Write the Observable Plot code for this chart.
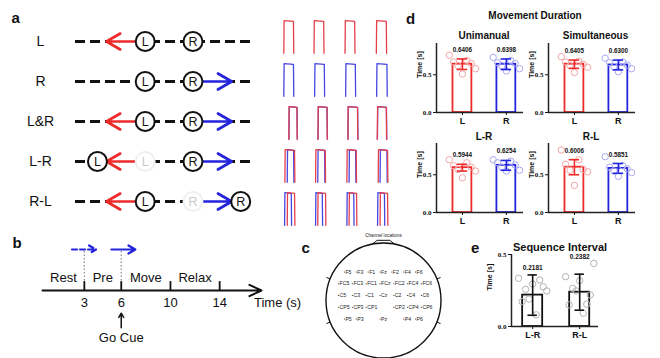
<!DOCTYPE html>
<html><head><meta charset="utf-8">
<script src="https://cdn.jsdelivr.net/npm/d3@7"></script>
<script src="https://cdn.jsdelivr.net/npm/@observablehq/plot@0.6"></script>
<style>
body{margin:0;background:#fff;}
#fig{position:relative;width:660px;height:358px;overflow:hidden;background:#fff;font-family:"Liberation Sans",Arial,sans-serif;color:#111;}
</style></head><body><div id="fig"></div>
<script>
// ---------- data ----------
const taskRows = ["L", "R", "L&R", "L-R", "R-L"];
// slots along a row: 0 outer-left, 1 left-hand home, 2 right-hand home, 3 outer-right
const handCircles = [
  {row: "L", hand: "L", slot: 1}, {row: "L", hand: "R", slot: 2},
  {row: "R", hand: "L", slot: 1}, {row: "R", hand: "R", slot: 2},
  {row: "L&R", hand: "L", slot: 1}, {row: "L&R", hand: "R", slot: 2},
  {row: "L-R", hand: "L", slot: 0}, {row: "L-R", hand: "L", slot: 1, faded: true}, {row: "L-R", hand: "R", slot: 2},
  {row: "R-L", hand: "L", slot: 1}, {row: "R-L", hand: "R", slot: 2, faded: true}, {row: "R-L", hand: "R", slot: 3}
];
const handArrows = [
  {row: "L", hand: "L", from: 1, to: 0},
  {row: "R", hand: "R", from: 2, to: 3},
  {row: "L&R", hand: "L", from: 1, to: 0}, {row: "L&R", hand: "R", from: 2, to: 3},
  {row: "L-R", hand: "L", from: 1, to: 0}, {row: "L-R", hand: "R", from: 2, to: 3},
  {row: "R-L", hand: "L", from: 1, to: 0}, {row: "R-L", hand: "R", from: 2, to: 3}
];
// example movement traces: onset / offset (s) per condition row x trial
const traceTrials = [1, 2, 3, 4];
const leftOn   = [[0.05,0.00,0.00,0.02],[null,null,null,null],[0.37,0.25,0.18,0.08],[0.12,0.10,0.12,0.14],[0.27,0.24,0.26,0.26]];
const leftOff  = [[0.69,0.64,0.64,0.68],[null,null,null,null],[0.91,0.85,0.82,0.68],[0.76,0.74,0.74,0.76],[0.76,0.76,0.76,0.76]];
const rightOn  = [[null,null,null,null],[0.05,0.04,0.04,0.04],[0.38,0.26,0.19,0.09],[0.27,0.24,0.26,0.26],[0.10,0.10,0.12,0.10]];
const rightOff = [[null,null,null,null],[0.69,0.68,0.68,0.72],[0.92,0.86,0.83,0.69],[0.70,0.70,0.70,0.72],[0.55,0.55,0.58,0.56]];
const pulseLevels = [0, 1, 0.98, 0];

// timeline (panel b)
const timeTicks = [3, 6, 10, 14];
const timelineStart = -0.4, timelineEnd = 17.4;
const phases = [{name: "Rest", start: -0.4, end: 3}, {name: "Pre", start: 3, end: 6}, {name: "Move", start: 6, end: 10}, {name: "Relax", start: 10, end: 14}];
const cues = [{time: 3, kind: "hint"}, {time: 6, kind: "go"}];

// channels (panel c)
const channelRows = [
  ["F5","F3","F1","Fz","F2","F4","F6"],
  ["FC5","FC3","FC1","FCz","FC2","FC4","FC6"],
  ["C5","C3","C1","Cz","C2","C4","C6"],
  ["CP5","CP3","CP1","CP2","CP4","CP6"],
  ["P5","P3","Pz","P4","P6"]
];

// movement duration (panel d)
const durConditions = ["Unimanual", "Simultaneous", "L-R", "R-L"];
const hands = ["L", "R"];
const durMeans = [[0.6406, 0.6398], [0.6405, 0.6300], [0.5944, 0.6254], [0.6006, 0.5851]];
const durSD = [[0.07, 0.07], [0.055, 0.065], [0.045, 0.065], [0.10, 0.065]];
const durPoints = [
  [[0.76,0.69,0.67,0.65,0.62,0.58,0.51], [0.73,0.69,0.66,0.65,0.62,0.58,0.55]],
  [[0.74,0.68,0.67,0.64,0.62,0.60,0.53], [0.72,0.67,0.66,0.63,0.61,0.58,0.54]],
  [[0.70,0.66,0.62,0.60,0.57,0.55,0.46], [0.70,0.68,0.66,0.63,0.60,0.56,0.55]],
  [[0.83,0.70,0.64,0.57,0.56,0.54,0.36], [0.74,0.62,0.60,0.58,0.55,0.53,0.48]]
];
// sequence interval (panel e)
const seqConditions = ["L-R", "R-L"];
const seqMeans = [0.2181, 0.2382];
const seqSD = [0.14, 0.125];
const seqPoints = [
  [0.335,0.295,0.247,0.19,0.276,0.258,0.323,0.173,0.081],
  [0.346,0.318,0.438,0.247,0.219,0.265,0.155,0.15,0.092]
];

// ---------- helpers ----------
const fig = document.getElementById("fig");
const FONT = '"Liberation Sans", Arial, Helvetica, sans-serif';
const RED = "#ee2b2b", BLUE = "#2424dd";
const handColor = {L: RED, R: BLUE};
const handLight = {L: "#f4a6a6", R: "#a9a9f2"};
const baseStyle = {fontFamily: FONT, background: "transparent", overflow: "visible", color: "#111"};

function place(el, left, top) {
  el.style.position = "absolute";
  el.style.left = left + "px";
  el.style.top = top + "px";
  el.style.maxWidth = "none";
  fig.appendChild(el);
}
function label(text, x, y, size, center) {
  const d = document.createElement("div");
  d.textContent = text;
  d.style.cssText = `position:absolute;left:${x}px;top:${y}px;font-weight:bold;font-size:${size}px;font-family:${FONT};line-height:1;white-space:nowrap;color:#111;` + (center ? "transform:translate(-50%,-50%);" : "");
  fig.appendChild(d);
}
const spread = (k, n, w) => n > 1 ? (((k * 4) % n) / (n - 1) - 0.5) * 2 * w : 0;

// ---------- panel a: schematic ----------
place(Plot.plot({
  width: 262, height: 200, marginLeft: 75, marginRight: 7, marginTop: 20, marginBottom: 20,
  x: {domain: [-0.46, 3.31], axis: null},
  y: {domain: taskRows, type: "point", padding: 0},
  style: baseStyle,
  marks: [
    Plot.ruleY(taskRows, {y: d => d, stroke: "#111", strokeWidth: 3, strokeDasharray: "10,5"}),
    Plot.arrow(handArrows, {x1: "from", x2: "to", y1: "row", y2: "row", stroke: "white", strokeWidth: 7, headLength: 0, insetStart: 9, insetEnd: 12}),
    Plot.arrow(handArrows, {x1: "from", x2: "to", y1: "row", y2: "row", stroke: d => handColor[d.hand], strokeWidth: 2.7, headLength: 9, insetStart: 9, insetEnd: 9}),
    Plot.dot(handCircles, {x: "slot", y: "row", r: 9.5, fill: "white", stroke: d => d.faded ? "#f0f0f0" : "#111", strokeWidth: 2}),
    Plot.text(handCircles, {x: "slot", y: "row", text: "hand", fill: d => d.faded ? "#c9c9c9" : "#111", fontSize: 12.5}),
    Plot.axisY({tickSize: 0, tickPadding: 35, textAnchor: "middle", fontSize: 14, label: null})
  ]
}), 0, 21);

// traces
const traces = [];
taskRows.forEach((row, r) => traceTrials.forEach((trial, t) => {
  [["R", rightOn, rightOff], ["L", leftOn, leftOff]].forEach(([hand, on, off]) => {
    const a = on[r][t], b = off[r][t];
    if (a == null) return;
    [a, a + 0.02, b - 0.02, b].forEach((time, k) => traces.push({row, trial, hand, time, level: pulseLevels[k]}));
  });
}));
place(Plot.plot({
  width: 124, height: 215, margin: 0,
  x: {domain: [-0.29, 1.7], axis: null},
  y: {domain: [-0.16, 1.16], axis: null},
  fx: {domain: traceTrials, padding: 0, axis: null},
  fy: {domain: taskRows, padding: 0, axis: null},
  style: baseStyle,
  marks: [
    Plot.line(traces, {x: "time", y: "level", z: "hand", fx: "trial", fy: "row", stroke: d => d.hand === "L" ? "#e5404a" : "#4646e2", strokeWidth: 1.3})
  ]
}), 278, 15);

// ---------- panel b: timeline ----------
place(Plot.plot({
  width: 310, height: 110, margin: 0,
  x: {domain: [timelineStart, timelineEnd], range: [42, 261], axis: null},
  y: {domain: [-4.39, 3.66], axis: null},
  style: baseStyle,
  marks: [
    Plot.ruleX(cues, {x: "time", y1: 0.7, y2: 2.95, stroke: "#8a8a8a", strokeWidth: 1.2, strokeDasharray: "1.5,2"}),
    Plot.arrow([timelineEnd], {x1: timelineStart, x2: d => d, y1: 0, y2: 0, stroke: "#111", strokeWidth: 2, headLength: 10, headAngle: 50}),
    Plot.ruleX(timeTicks, {x: d => d, y1: 0, y2: 0.65, stroke: "#111", strokeWidth: 1.8}),
    Plot.text(timeTicks, {x: d => d, y: 0, dy: 12, text: d => String(d), fontSize: 13}),
    Plot.text(["Time (s)"], {x: timelineEnd, y: 0, dx: -7.5, dy: 12, textAnchor: "start", fontSize: 13}),
    Plot.text(phases, {x: d => (d.start + d.end) / 2, y: 0, dy: -13, text: "name", fontSize: 13}),
    Plot.arrow(cues.filter(c => c.kind === "hint"), {x1: d => d.time - 1.0, x2: d => d.time + 0.95, y1: 3, y2: 3, stroke: BLUE, strokeWidth: 2.2, strokeDasharray: "5,3", headLength: 8}),
    Plot.arrow(cues.filter(c => c.kind === "go"), {x1: d => d.time - 0.8, x2: d => d.time + 1.15, y1: 3, y2: 3, stroke: BLUE, strokeWidth: 2.2, headLength: 8}),
    Plot.arrow(cues.filter(c => c.kind === "go"), {x1: "time", x2: "time", y1: -2.73, y2: -1.66, stroke: "#111", strokeWidth: 1.5, headLength: 6}),
    Plot.text(cues.filter(c => c.kind === "go"), {x: "time", y: -2.73, dy: 10, text: () => "Go Cue", fontSize: 13})
  ]
}), 0, 240);

// ---------- panel c: channel locations ----------
const channels = [];
channelRows.forEach((names, ri) => names.forEach(name => {
  const m = name.match(/(\d|z)$/)[1];
  const col = m === "z" ? 0 : (+m % 2 ? -(+m + 1) / 2 : +m / 2);
  const row = ri - 2;
  channels.push({name, col: col * (Math.abs(row) > 1 ? 0.86 : 1), row});
}));
// head outline geometry: nose and ear marks (angle from top in degrees, radial offset in px)
const pxX = 13.8, pxY = 11.75, headR = 57.5, headCy = 0.426;
const polar = (deg, rr) => ({x: Math.sin(deg * Math.PI / 180) * rr / pxX, y: headCy - Math.cos(deg * Math.PI / 180) * rr / pxY});
const nose = [[-11, headR], [-6, headR + 3], [6, headR + 3], [11, headR]].map(([a, rr]) => polar(a, rr));
const ears = [-112, -68, 68, 112].map(a => ({a, p1: polar(a, headR), p2: polar(a, headR + 4)}));
place(Plot.plot({
  width: 130, height: 120, margin: 0,
  x: {domain: [-4.71, 4.71], axis: null},
  y: {domain: [5.53, -4.68], axis: null},
  style: baseStyle,
  marks: [
    Plot.dot([0], {frameAnchor: "middle", r: headR, stroke: "#111", strokeWidth: 1.4, fill: "none"}),
    Plot.line(nose, {x: "x", y: "y", stroke: "#111", strokeWidth: 1}),
    Plot.link(ears, {x1: d => d.p1.x, y1: d => d.p1.y, x2: d => d.p2.x, y2: d => d.p2.y, stroke: "#111", strokeWidth: 1}),
    Plot.dot(channels, {x: "col", y: "row", r: 0.6, fill: "#222", dx: -3.5}),
    Plot.text(channels, {x: "col", y: "row", text: "name", textAnchor: "start", dx: -2.5, fontSize: 5.2, fill: "#222"}),
    Plot.text(["Channel locations"], {frameAnchor: "top", dy: -7, fontSize: 4.6, fill: "#222"})
  ]
}), 318, 240);

// ---------- panel d: movement duration ----------
function durationPlot(c) {
  const bars = hands.map((h, i) => ({i, hand: h, mean: durMeans[c][i], sd: durSD[c][i]}));
  const dots = [];
  hands.forEach((h, i) => {
    const v = durPoints[c][i];
    v.forEach((val, k) => dots.push({hand: h, x: i + spread(k, v.length, 0.3), value: val}));
  });
  const xd = [-0.59, 1.39];
  return Plot.plot({
    width: 119, height: 89, marginLeft: 28, marginRight: 4, marginTop: 2, marginBottom: 18,
    x: {domain: xd},
    y: {domain: [0, 0.915]},
    style: baseStyle,
    marks: [
      Plot.rectY(bars, {x1: d => d.i - 0.215, x2: d => d.i + 0.215, y1: 0, y2: "mean", fill: "white", stroke: d => handColor[d.hand], strokeWidth: 1.8}),
      Plot.dot(dots, {x: "x", y: "value", r: 3.2, stroke: d => handLight[d.hand], strokeWidth: 1}),
      Plot.ruleX(bars, {x: "i", y1: d => d.mean - d.sd, y2: d => d.mean + d.sd, stroke: d => handColor[d.hand], strokeWidth: 1.6}),
      Plot.ruleY(bars, {x1: d => d.i - 0.12, x2: d => d.i + 0.12, y: d => d.mean + d.sd, stroke: d => handColor[d.hand], strokeWidth: 1.6}),
      Plot.ruleY(bars, {x1: d => d.i - 0.12, x2: d => d.i + 0.12, y: d => d.mean - d.sd, stroke: d => handColor[d.hand], strokeWidth: 1.6}),
      Plot.text(bars, {x: "i", y: d => d.mean + d.sd, dy: -9, text: d => d.mean.toFixed(4), fontSize: 6.3, fontWeight: "bold"}),
      Plot.ruleX([xd[0]], {stroke: "#222", strokeWidth: 1.5}),
      Plot.ruleY([0], {stroke: "#222", strokeWidth: 1.5}),
      Plot.axisX({ticks: [0, 1], tickFormat: i => hands[i], tickSize: 3, tickPadding: 2, fontSize: 9, fontWeight: "bold", label: null}),
      Plot.axisY({ticks: [0, 0.5], tickFormat: d => d.toFixed(1), tickSize: 3, tickPadding: 2, fontSize: 7, fontFamily: '"Liberation Serif", serif', fontWeight: "bold", label: null}),
      Plot.text(["Time [s]"], {frameAnchor: "left", dx: -17, rotate: -90, fontSize: 7, fontWeight: "bold"})
    ]
  });
}
const durPos = [[408, 41], [520, 41], [408, 141], [520, 141]];
durConditions.forEach((c, k) => place(durationPlot(k), durPos[k][0], durPos[k][1]));

// ---------- panel e: sequence interval ----------
{
  const bars = seqConditions.map((s, i) => ({i, name: s, mean: seqMeans[i], sd: seqSD[i], top: Math.max(seqMeans[i] + seqSD[i], d3.max(seqPoints[i]))}));
  const dots = [];
  seqConditions.forEach((s, i) => seqPoints[i].forEach((val, k) => dots.push({x: i + spread(k, seqPoints[i].length, 0.3), value: val})));
  const xd = [-0.45, 1.40];
  place(Plot.plot({
    width: 119, height: 96, marginLeft: 28, marginRight: 4, marginTop: 6, marginBottom: 18,
    x: {domain: xd},
    y: {domain: [0, 0.5]},
    style: baseStyle,
    marks: [
      Plot.rectY(bars, {x1: d => d.i - 0.213, x2: d => d.i + 0.213, y1: 0, y2: "mean", fill: "white", stroke: "#111", strokeWidth: 1.8}),
      Plot.dot(dots, {x: "x", y: "value", r: 3.2, stroke: "#b3b3b3", strokeWidth: 1}),
      Plot.ruleX(bars, {x: "i", y1: d => d.mean - d.sd, y2: d => d.mean + d.sd, stroke: "#111", strokeWidth: 1.6}),
      Plot.ruleY(bars, {x1: d => d.i - 0.1, x2: d => d.i + 0.1, y: d => d.mean + d.sd, stroke: "#111", strokeWidth: 1.6}),
      Plot.ruleY(bars, {x1: d => d.i - 0.1, x2: d => d.i + 0.1, y: d => d.mean - d.sd, stroke: "#111", strokeWidth: 1.6}),
      Plot.text(bars, {x: "i", y: "top", dy: -7, text: d => d.mean.toFixed(4), fontSize: 6.5, fontWeight: "bold"}),
      Plot.ruleX([xd[0]], {stroke: "#222", strokeWidth: 1.5}),
      Plot.ruleY([0], {stroke: "#222", strokeWidth: 1.5}),
      Plot.axisX({ticks: [0, 1], tickFormat: i => seqConditions[i], tickSize: 3, tickPadding: 2, fontSize: 9, fontWeight: "bold", label: null}),
      Plot.axisY({ticks: [0, 0.5], tickFormat: d => d.toFixed(1), tickSize: 3, tickPadding: 2, fontSize: 7, fontFamily: '"Liberation Serif", serif', fontWeight: "bold", label: null}),
      Plot.text(["Time [s]"], {frameAnchor: "left", dx: -22, rotate: -90, fontSize: 7, fontWeight: "bold"})
    ]
  }), 483, 248);
}

// ---------- titles and panel letters ----------
label("a", 11.5, 10, 15);
label("b", 12.5, 235, 15);
label("c", 301.5, 239.5, 15);
label("d", 406, 10.5, 15);
label("e", 471, 239.5, 15);
label("Movement Duration", 535, 16, 10, true);
label("Unimanual", 484, 36, 10, true);
label("Simultaneous", 595.5, 36, 10, true);
label("L-R", 484, 137, 10, true);
label("R-L", 591, 137, 10, true);
label("Sequence Interval", 560, 247, 11, true);
</script></body></html>
